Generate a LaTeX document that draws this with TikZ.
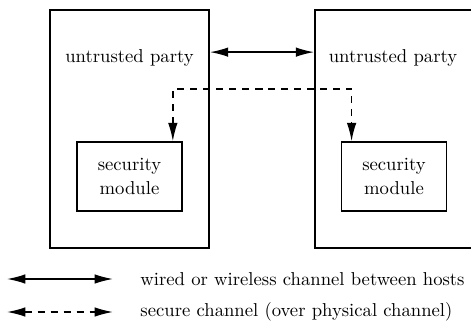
\documentclass[tikz,border=0pt]{standalone}
\usepackage{tikz}
\usetikzlibrary{arrows.meta,positioning}

\begin{document}
\begin{tikzpicture}[
      x=0.5464pt, y=-0.5464pt,
      every node/.style={font=\fontsize{10.2pt}{12.6pt}\selectfont},
      party/.style={rectangle, draw, line width=0.85pt, minimum width=87pt, minimum height=130pt, inner sep=0pt},
      module/.style={rectangle, draw, line width=0.85pt, minimum width=57.5pt, minimum height=37.7pt, align=center},
      wire/.style={draw, line width=0.8pt, {Latex[length=10pt,width=5.2pt]}-{Latex[length=10pt,width=5.2pt]}},
      secure/.style={wire, dash pattern=on 3.8pt off 3.3pt}
    ]
    \useasboundingbox (0,0) rectangle (471,322);
    % the two hosts
    \node[party] (hostA) at (129.5,129) {};
    \node[party] (hostB) at (394.5,129) {};
    \node (partyA) at (129.5,58) {untrusted party};
    \node (partyB) at (393,58) {untrusted party};
    \node[module] (modA) at (129.5,176.5) {security\\module};
    \node[module] (modB) at (394,176.5) {security\\module};
    % channels
    \draw[wire] ([yshift=42pt]hostA.east) -- ([yshift=42pt]hostB.west);
    \coordinate (link) at (262,89);
    \draw[secure] ([xshift=-5.5pt]modA.north east) |- (link) -| ([xshift=6pt]modB.north west);
    % legend
    \coordinate (wiredL) at (7,279);
    \coordinate (secureL) at (7,312);
    \node[anchor=west] (wiredtxt) at (134,279) {wired or wireless channel between hosts};
    \node[anchor=west] (securetxt) at (134,312) {secure channel (over physical channel)};
    \draw[wire] (wiredL) -- ([xshift=-11.5pt]wiredtxt.west);
    \draw[secure] (secureL) -- ([xshift=-11.5pt]securetxt.west);
  \end{tikzpicture}
\end{document}
